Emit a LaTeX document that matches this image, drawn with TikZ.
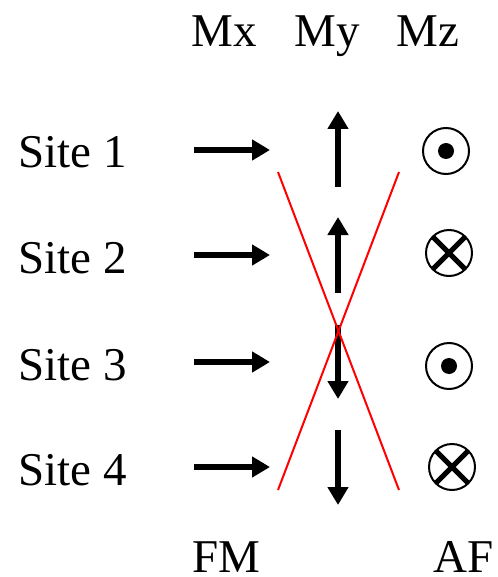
\documentclass[tikz,border=0pt]{standalone}
\usepackage{fontspec}
\setmainfont{Liberation Serif}
\usetikzlibrary{arrows.meta}
\begin{document}
\begin{tikzpicture}[x=1pt,y=-1pt,
  lbl/.style={inner sep=0pt,font=\fontsize{47}{56}\selectfont},
  vec/.style={line width=6pt,-{Triangle[length=18pt,width=20pt]}},
  ring/.style={circle,draw,line width=2pt,minimum size=46pt,inner sep=0pt},
  crossline/.style={line width=5pt},
  redline/.style={red,line width=2pt}]
\useasboundingbox (0,0) rectangle (497,577);
% headers
\node[lbl,anchor=base] (mx) at (224,47) {Mx};
\node[lbl,anchor=base] (my) at (327,47) {My};
\node[lbl,anchor=base] (mz) at (428,47) {Mz};
\node[lbl,anchor=base] (fm) at (226,572) {FM};
\node[lbl,anchor=base] (af) at (464,572) {AF};
% site labels
\node[lbl,anchor=base west] (s1) at (18,168) {Site 1};
\node[lbl,anchor=base west] (s2) at (18,273) {Site 2};
\node[lbl,anchor=base west] (s3) at (18,380) {Site 3};
\node[lbl,anchor=base west] (s4) at (18,485) {Site 4};
% Mx arrows
\foreach \i/\y in {1/150,2/255,3/362,4/467}{
  \coordinate (xa\i) at (194,\y);
  \coordinate (xb\i) at (270,\y);
  \draw[vec] (xa\i) -- (xb\i);
}
% My arrows
\coordinate (ya1) at (338,187); \coordinate (yb1) at (338,111);
\coordinate (ya2) at (338,293); \coordinate (yb2) at (338,217);
\coordinate (ya3) at (338,325); \coordinate (yb3) at (338,399);
\coordinate (ya4) at (338,430); \coordinate (yb4) at (338,505);
\foreach \i in {1,...,4}{\draw[vec] (ya\i) -- (yb\i);}
% red lines
\coordinate (r1) at (278,172); \coordinate (r2) at (399,490);
\coordinate (r3) at (399,172); \coordinate (r4) at (278,490);
\draw[redline] (r1) -- (r2);
\draw[redline] (r3) -- (r4);
% Mz symbols
\node[ring] (z1) at (446,151) {};
\fill (z1.center) circle (8);
\node[ring] (z2) at (449,253) {};
\draw[crossline] ([shift={(-16,-16)}]z2.center) -- ([shift={(16,16)}]z2.center);
\draw[crossline] ([shift={(-16,16)}]z2.center) -- ([shift={(16,-16)}]z2.center);
\node[ring] (z3) at (449,366) {};
\fill (z3.center) circle (8);
\node[ring] (z4) at (452,467) {};
\draw[crossline] ([shift={(-16,-16)}]z4.center) -- ([shift={(16,16)}]z4.center);
\draw[crossline] ([shift={(-16,16)}]z4.center) -- ([shift={(16,-16)}]z4.center);
\end{tikzpicture}
\end{document}
